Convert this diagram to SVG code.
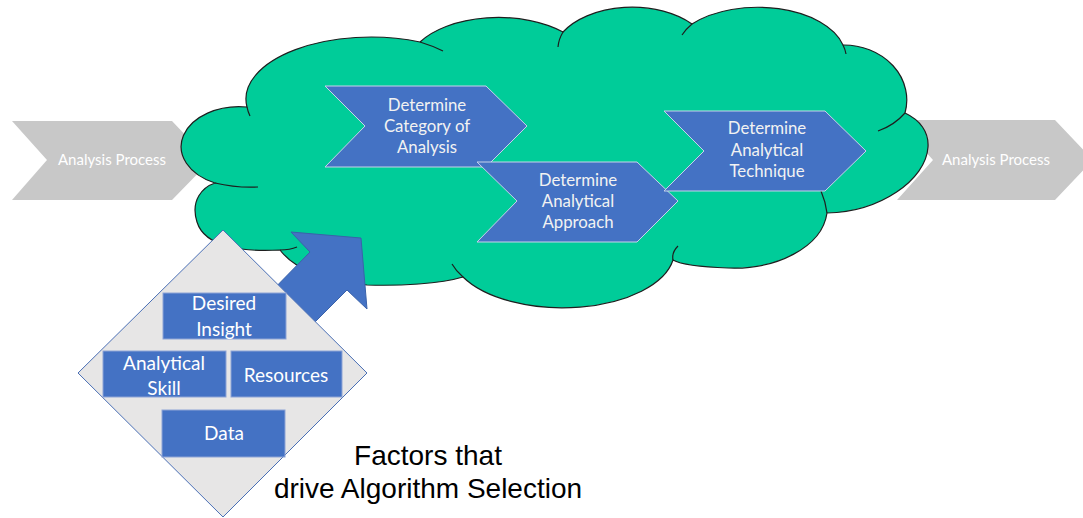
<svg xmlns="http://www.w3.org/2000/svg" width="1083" height="518" viewBox="0 0 1083 518">
  <style>
    .gray-step { fill: #c8c8c8; }
    .gray-label { font-family: Lato, "Noto Sans", sans-serif; font-size: 15px; fill: #ffffff; text-anchor: middle; }
    .cloud { fill: #00cc99; stroke: #1e1e1e; stroke-width: 1.2; }
    .crease { fill: none; stroke: #1e1e1e; stroke-width: 1.2; }
    .step { fill: #4472c4; stroke: #c7d2ea; stroke-width: 1; }
    .step-label { font-family: Lato, "Noto Sans", sans-serif; font-size: 16.8px; fill: #f2f2f2; text-anchor: middle; }
    .factor { fill: #4472c4; stroke: #8ea4d6; stroke-width: 1; }
    .factor-label { font-family: Lato, "Noto Sans", sans-serif; font-size: 19px; fill: #ffffff; text-anchor: middle; }
    .caption { font-family: "Liberation Sans", Arial, sans-serif; font-size: 28px; fill: #000000; text-anchor: middle; }
  </style>

  <!-- process steps before and after the selection cloud -->
  <g id="process-in">
    <polygon class="gray-step" points="12,121 172,121 210,161 172,200 12,200 47,160"/>
    <text class="gray-label" x="112" y="165">Analysis Process</text>
  </g>
  <g id="process-out">
    <polygon class="gray-step" points="897,120 1055,120 1093,160 1055,200 897,200 933,160"/>
    <text class="gray-label" x="996" y="165">Analysis Process</text>
  </g>

  <!-- cloud holding the three determination steps -->
  <g id="cloud">
    <path class="cloud" d="M247,107
      A125 62 0 0 1 420,42
      A90 48 0 0 1 563,32
      A80 50 0 0 1 692,24
      A88 50 0 0 1 843,45
      A63 55 0 0 1 905,113
      C920,120 929,132 928,147
      C926,180 880,212 827,213
      C822,248 775,270 728,268
      C700,267 680,264 673,260
      A112 57 0 0 1 463,277
      C440,284 400,286 367,285
      C330,283 295,270 280,250
      C245,252 205,248 197,222
      C190,200 203,187 215,183
      A58 40 0 0 1 247,107 Z"/>
    <path class="crease" d="M247,107 A125 62 0 0 0 250,116"/>
    <path class="crease" d="M420,42 A125 62 0 0 1 443,51"/>
    <path class="crease" d="M563,32 A80 50 0 0 0 558,47"/>
    <path class="crease" d="M692,24 A88 50 0 0 0 682,35"/>
    <path class="crease" d="M843,45 A88 50 0 0 1 846,54"/>
    <path class="crease" d="M905,113 A63 55 0 0 1 878,131"/>
    <path class="crease" d="M827,213 C826,205 824,198 821,191"/>
    <path class="crease" d="M673,260 C672,255 674,250 678,246"/>
    <path class="crease" d="M463,277 A112 57 0 0 1 452,264"/>
    <path class="crease" d="M280,250 Q290,250 297,247"/>
    <path class="crease" d="M215,183 Q236,188 258,187"/>
  </g>

  <g id="category">
    <polygon class="step" points="325,86 486,86 527,126 486,167 325,167 365,126"/>
    <text class="step-label" x="427" y="111">Determine</text>
    <text class="step-label" x="427" y="132">Category of</text>
    <text class="step-label" x="427" y="153">Analysis</text>
  </g>
  <g id="approach">
    <polygon class="step" points="477,162 637,162 678,201 637,242 477,242 517,201"/>
    <text class="step-label" x="578" y="186">Determine</text>
    <text class="step-label" x="578" y="207">Analytical</text>
    <text class="step-label" x="578" y="228">Approach</text>
  </g>
  <g id="technique">
    <polygon class="step" points="664,111 825,111 866,151 825,191 664,191 704,151"/>
    <text class="step-label" x="767" y="134">Determine</text>
    <text class="step-label" x="767" y="155.5">Analytical</text>
    <text class="step-label" x="767" y="177">Technique</text>
  </g>

  <!-- block arrow from the factors into the cloud -->
  <g id="connectors">
    <polygon points="291,232 361,238 367,309 347,290 300,337 263,300 310,252"
             fill="#4472c4" stroke="#3a62aa" stroke-width="1"/>
  </g>

  <g id="factors">
    <polygon points="223,230 367,373 223,517 78,373" fill="#e7e6e6" stroke="#4a6fb5" stroke-width="1"/>
    <g id="desired-insight">
      <rect class="factor" x="163" y="293" width="123" height="46"/>
      <text class="factor-label" x="224" y="309.5">Desired</text>
      <text class="factor-label" x="224" y="335.5">Insight</text>
    </g>
    <g id="analytical-skill">
      <rect class="factor" x="103" y="351" width="123" height="46"/>
      <text class="factor-label" x="164" y="369.5">Analytical</text>
      <text class="factor-label" x="164" y="394.5">Skill</text>
    </g>
    <g id="resources">
      <rect class="factor" x="231" y="351" width="111" height="46"/>
      <text class="factor-label" x="286" y="381.5">Resources</text>
    </g>
    <g id="data">
      <rect class="factor" x="162" y="410" width="123" height="47"/>
      <text class="factor-label" x="224" y="439.5">Data</text>
    </g>
  </g>

  <g id="caption">
    <text class="caption" x="428" y="465">Factors that</text>
    <text class="caption" x="428" y="498">drive Algorithm Selection</text>
  </g>
</svg>
